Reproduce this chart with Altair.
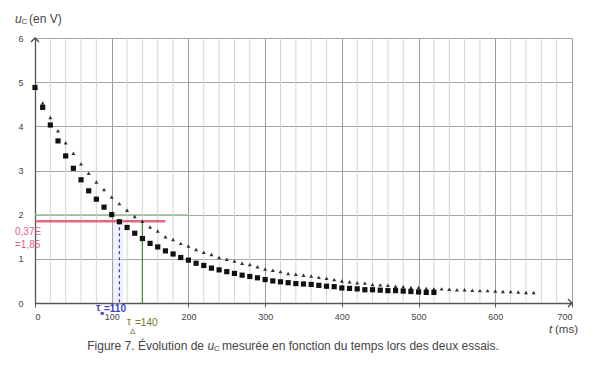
import altair as alt
import pandas as pd

# ---------------- data ----------------
t_carres = list(range(0, 521, 10))
u_carres = [4.88, 4.43, 4.03, 3.67, 3.33, 3.05, 2.79, 2.54, 2.35, 2.17,
            2.00, 1.84, 1.71, 1.58, 1.46, 1.35, 1.27, 1.18, 1.11, 1.03,
            0.97, 0.90, 0.85, 0.79, 0.75, 0.71, 0.67, 0.63, 0.60, 0.57,
            0.53, 0.50, 0.48, 0.46, 0.44, 0.43, 0.42, 0.40, 0.38, 0.37,
            0.34, 0.33, 0.32, 0.30, 0.30, 0.29, 0.28, 0.28, 0.27, 0.26,
            0.25, 0.24, 0.24]

t_triangles = list(range(0, 651, 10))
u_triangles = [4.88, 4.53, 4.20, 3.90, 3.63, 3.39, 3.15, 2.94, 2.74, 2.57,
               2.40, 2.25, 2.10, 1.96, 1.85, 1.72, 1.63, 1.50, 1.44, 1.35,
               1.29, 1.21, 1.15, 1.10, 1.03, 0.99, 0.95, 0.90, 0.87, 0.82,
               0.77, 0.74, 0.71, 0.67, 0.65, 0.63, 0.61, 0.58, 0.56, 0.53,
               0.50, 0.48, 0.46, 0.45, 0.42, 0.41, 0.40, 0.38, 0.37, 0.35,
               0.35, 0.33, 0.32, 0.32, 0.31, 0.30, 0.30, 0.29, 0.28, 0.28,
               0.27, 0.26, 0.26, 0.25, 0.24, 0.24]

x_ticks = [0, 100, 200, 300, 400, 500, 600, 700]
x_grid_minor = [v for v in range(0, 701, 20) if v % 100 != 0]
y_ticks = [0, 1, 2, 3, 4, 5, 6]
tau_carres = 110
tau_triangles = 140
u_037E = 1.85
t_fin_ligne_rouge = 170
t_fin_ligne_verte = 200
bande_tau = [102, 114]

FONT = "Liberation Sans"
W, H = 537, 265

df_c = pd.DataFrame({"t": t_carres, "u": u_carres})
df_t = pd.DataFrame({"t": t_triangles, "u": u_triangles})

xscale = alt.Scale(domain=[0, 700], nice=False, zero=False)
yscale = alt.Scale(domain=[0, 6], nice=False)

x_axis = alt.Axis(
    values=x_ticks, title=None, labelOverlap=False, labelFont=FONT,
    labelFontSize=9, labelColor="#444", labelPadding=5, tickSize=4,
    tickColor="#555", grid=True, gridColor="#9c9c9c", gridWidth=1,
    domainColor="#555", domainWidth=1.3,
)
y_axis = alt.Axis(
    values=y_ticks, title=None, labelFont=FONT, labelFontSize=9,
    labelColor="#444", labelPadding=12, ticks=False, grid=True,
    gridColor="#a6a6a6", gridWidth=1, domainColor="#555", domainWidth=1.3,
)


def X(field):
    return alt.X(field, scale=xscale, axis=x_axis)


def Y(field):
    return alt.Y(field, scale=yscale, axis=y_axis)


minor = alt.Chart(pd.DataFrame({"t": x_grid_minor})).mark_rule(
    color="#d4d4d4", strokeWidth=1
).encode(x=X("t:Q"), y=alt.value(0), y2=alt.value(H))

carres = alt.Chart(df_c).mark_point(
    shape="square", filled=True, color="#111", size=27, opacity=1
).encode(x=X("t:Q"), y=Y("u:Q"))
triangles = alt.Chart(df_t).mark_point(
    shape="triangle-up", filled=True, color="#333", size=16, opacity=1
).encode(x=X("t:Q"), y=Y("u:Q"))

ann = pd.DataFrame({"tc": [tau_carres], "tt": [tau_triangles], "u": [u_037E],
                    "z": [0], "tr": [t_fin_ligne_rouge], "tg": [t_fin_ligne_verte],
                    "two": [2], "b0": [bande_tau[0]], "b1": [bande_tau[1]]})
base = alt.Chart(ann)

band = base.mark_rect(fill="#ececfb", opacity=0.6, stroke="#d6d6f2",
                      strokeWidth=0.8).encode(
    x=X("b0:Q"), x2="b1:Q", y=Y("u:Q"), y2=alt.Y2("z:Q"),
)
green_h = base.mark_rule(color="#a9d6a3", strokeWidth=1.2).encode(
    x=X("z:Q"), x2="tg:Q", y=Y("two:Q"))
red = base.mark_rule(color="#e25a72", strokeWidth=2.6, opacity=0.9).encode(
    x=X("z:Q"), x2="tr:Q", y=Y("u:Q"))
blue = base.mark_rule(color="#3344cc", strokeWidth=1.3, strokeDash=[3, 3]).encode(
    x=X("tc:Q"), y=Y("u:Q"), y2="z:Q")
green = base.mark_rule(color="#3f8a3a", strokeWidth=1.2).encode(
    x=X("tt:Q"), y=Y("u:Q"), y2="z:Q")

arrows = pd.DataFrame({"t": [700, 0], "u": [0, 6]})
arrow_x = alt.Chart(arrows.iloc[[0]]).mark_point(
    shape="M-1,-1L0,0L-1,1", filled=False, stroke="#444", strokeWidth=1.3,
    size=64, opacity=1).encode(x=X("t:Q"), y=Y("u:Q"))
arrow_y = alt.Chart(arrows.iloc[[1]]).mark_point(
    shape="M-1,1L0,0L1,1", filled=False, stroke="#444", strokeWidth=1.3,
    size=64, opacity=1).encode(x=X("t:Q"), y=Y("u:Q"))


def txt(s, x, y, size=11, color="#444", align="left", style="normal",
        weight="normal", baseline="middle"):
    return alt.Chart(pd.DataFrame({"s": [s]})).mark_text(
        font=FONT, fontSize=size, color=color, align=align, fontStyle=style,
        fontWeight=weight, baseline=baseline,
    ).encode(x=alt.value(x), y=alt.value(y), text="s:N")


OX, OY = 35, 38  # plot origin in the page
texts = [
    # y axis title
    txt("u", 15 - OX, 19 - OY, 12, style="italic"),
    txt("C", 21.5 - OX, 22 - OY, 8),
    txt("(en V)", 29 - OX, 19 - OY, 12),
    # x axis title
    txt("t", 549 - OX, 330 - OY, 11.5, style="italic"),
    txt("(ms)", 555 - OX, 330 - OY, 11.5),
    # caption
    txt("Figure 7. Évolution de", 204 - OX, 346 - OY, 12, align="right"),
    txt("u", 207.5 - OX, 346 - OY, 12, style="italic"),
    txt("C", 214 - OX, 349 - OY, 8),
    txt("mesurée en fonction du temps lors des deux essais.", 222 - OX, 346 - OY, 12),
    # 0,37E label
    txt("0,37E", 15 - OX, 232 - OY, 10, color="#e0607a"),
    txt("=1,85", 15 - OX, 245 - OY, 10, color="#e0607a"),
    # tau labels
    txt("τ", 96 - OX, 308 - OY, 10, color="#3f3fd0", weight="bold"),
    txt("■", 100.5 - OX, 312.5 - OY, 6, color="#3f3fd0"),
    txt("=110", 104 - OX, 309 - OY, 10, color="#3f3fd0", weight="bold"),
    txt("τ", 127 - OX, 322 - OY, 10, color="#6d7a25"),
    txt("Δ", 130 - OX, 332 - OY, 8, color="#6d7a25"),
    txt("=140", 135 - OX, 323 - OY, 10, color="#6d7a25"),
]

chart = alt.layer(
    minor, band, green_h, red, blue, green, triangles, carres,
    arrow_x, arrow_y, *texts
).properties(
    width=W, height=H,
    autosize=alt.AutoSizeParams(type="none"),
    padding={"left": OX, "top": OY, "right": 601 - OX - W, "bottom": 365 - OY - H},
).configure_view(stroke=None).configure(background="white")

chart.save("out.html", embed_options={"renderer": "svg", "actions": False})
